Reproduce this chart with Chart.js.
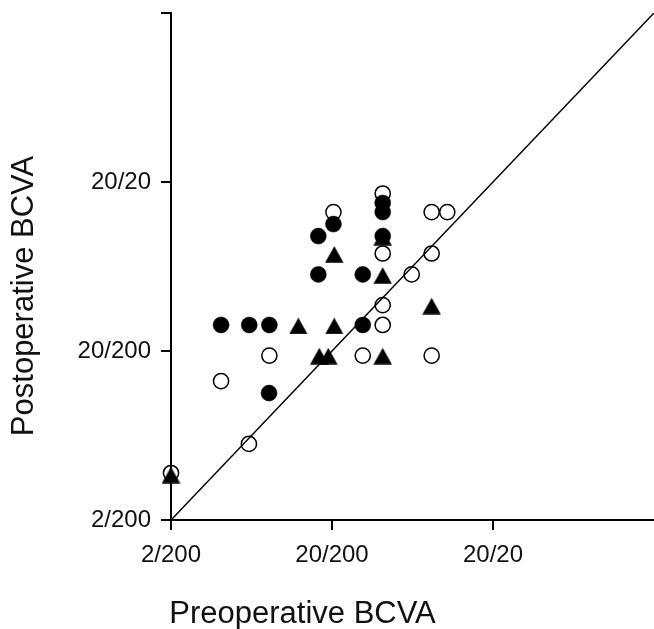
<!DOCTYPE html>
<html>
<head>
<meta charset="utf-8">
<script src="https://cdn.jsdelivr.net/npm/chart.js@4/dist/chart.umd.min.js"></script>
<style>
  html, body { margin: 0; padding: 0; background: #fff; }
  #wrap { width: 654px; height: 629px; position: relative; }
</style>
</head>
<body>
<div id="wrap"><canvas id="c" width="654" height="629"></canvas></div>
<script>
// Values are log10 of decimal visual acuity (2/200 = -2, 20/200 = -1, 20/20 = 0)
const axisMin = -2;
const axisMax = 1;
const xTickValues = [-2, -1, 0];
const yTickValues = [-2, -1, 0, 1];
const tickValues = [-2, -1, 0, 1];
const tickLabels = ['2/200', '20/200', '20/20', ''];
const xTitle = 'Preoperative BCVA';
const yTitle = 'Postoperative BCVA';

// Group A: filled circles
const filledPre  = [-0.685, -0.685, -0.991, -1.085, -0.685, -1.085, -0.809, -1.689, -1.514, -1.389, -0.809, -1.391];
const filledPost = [-0.124, -0.178, -0.249, -0.320, -0.320, -0.547, -0.547, -0.846, -0.846, -0.846, -0.846, -1.249];

// Group B: filled triangles
const triPre  = [-0.685, -0.986, -0.685, -1.209, -0.986, -0.381, -1.079, -1.023, -0.685, -2.0];
const triPost = [-0.326, -0.428, -0.553, -0.852, -0.852, -0.734, -1.030, -1.030, -1.030, -1.734];

// Group C: open circles
const openPre  = [-0.685, -0.991, -0.685, -0.381, -0.284, -0.381, -0.505, -0.685, -0.685, -1.389, -0.809, -0.381, -1.689, -1.516, -2.0];
const openPost = [-0.068, -0.178, -0.423, -0.178, -0.178, -0.423, -0.547, -0.728, -0.846, -1.027, -1.027, -1.027, -1.178, -1.550, -1.722];

function pairs(xs, ys) { return xs.map((x, i) => ({ x: x, y: ys[i] })); }

// Triangle symbol centred on its bounding box
function makeTriangle() {
  const w = 19, h = 17;
  const c = document.createElement('canvas');
  c.width = w; c.height = h;
  const g = c.getContext('2d');
  g.fillStyle = '#000';
  g.beginPath();
  g.moveTo(w / 2, 0.3);
  g.lineTo(w - 0.3, h - 0.3);
  g.lineTo(0.3, h - 0.3);
  g.closePath();
  g.fill();
  return c;
}
const triStyle = makeTriangle();

const FONT = "'Liberation Sans', Arial, Helvetica, sans-serif";

const titlesPlugin = {
  id: 'axisTitles',
  afterDraw(chart) {
    const ctx = chart.ctx;
    ctx.save();
    ctx.fillStyle = '#111';
    ctx.font = '31px ' + FONT;
    ctx.textAlign = 'center';
    ctx.textBaseline = 'alphabetic';
    ctx.fillText(xTitle, 302.5, 623);
    ctx.translate(33, 296);
    ctx.rotate(-Math.PI / 2);
    ctx.fillText(yTitle, 0, 0);
    ctx.restore();
  }
};

const tickCfg = {
  autoSkip: false,
  maxRotation: 0,
  minRotation: 0,
  color: '#111',
  font: { family: FONT, size: 24 },
  callback: (v) => { const i = tickValues.indexOf(v); return i >= 0 ? tickLabels[i] : ''; }
};

new Chart(document.getElementById('c'), {
  type: 'scatter',
  data: {
    datasets: [
      {
        label: 'filled',
        data: pairs(filledPre, filledPost),
        pointStyle: 'circle',
        pointRadius: 8,
        pointHoverRadius: 8,
        backgroundColor: '#000',
        borderColor: '#000',
        borderWidth: 0.5,
        clip: false
      },
      {
        label: 'triangle',
        data: pairs(triPre, triPost),
        pointStyle: triStyle,
        pointRadius: 9,
        backgroundColor: '#000',
        borderColor: '#000',
        clip: false
      },
      {
        label: 'open',
        data: pairs(openPre, openPost),
        pointStyle: 'circle',
        pointRadius: 7.6,
        pointHoverRadius: 7.6,
        backgroundColor: 'rgba(0,0,0,0)',
        borderColor: '#000',
        borderWidth: 1.5,
        clip: false
      },
      {
        type: 'line',
        label: 'identity',
        data: [{ x: axisMin, y: axisMin }, { x: axisMax, y: axisMax }],
        borderColor: '#000',
        borderWidth: 1.5,
        pointRadius: 0,
        fill: false
      }
    ]
  },
  options: {
    responsive: false,
    animation: false,
    events: [],
    layout: { autoPadding: false, padding: { top: 13, right: 0, bottom: 0, left: 0 } },
    plugins: { legend: { display: false }, tooltip: { enabled: false } },
    scales: {
      x: {
        type: 'linear',
        min: axisMin,
        max: axisMax,
        afterBuildTicks: (s) => { s.ticks = xTickValues.map(v => ({ value: v })); },
        afterFit: (s) => { s.height = 109; s.paddingLeft = 0; s.paddingRight = 0; },
        ticks: Object.assign({ padding: 11 }, tickCfg),
        grid: { drawOnChartArea: false, drawTicks: true, tickLength: 10, color: '#000', lineWidth: 2 },
        border: { display: true, color: '#000', width: 2 }
      },
      y: {
        type: 'linear',
        min: axisMin,
        max: axisMax,
        afterBuildTicks: (s) => { s.ticks = yTickValues.map(v => ({ value: v })); },
        afterFit: (s) => { s.width = 171; s.paddingTop = 0; s.paddingBottom = 0; },
        ticks: Object.assign({ padding: 10 }, tickCfg),
        grid: { drawOnChartArea: false, drawTicks: true, tickLength: 10, color: '#000', lineWidth: 2 },
        border: { display: true, color: '#000', width: 2 }
      }
    }
  },
  plugins: [titlesPlugin]
});
</script>
</body>
</html>
